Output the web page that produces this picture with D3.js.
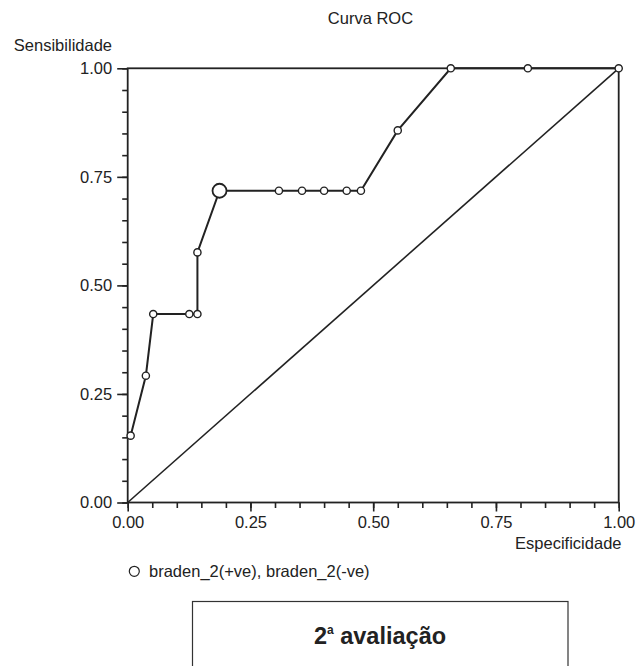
<!DOCTYPE html>
<html><head><meta charset="utf-8">
<script src="https://cdn.jsdelivr.net/npm/d3@7"></script>
<style>body{margin:0;background:#fff}svg{display:block}text{font-family:"Liberation Sans",Arial,sans-serif;fill:#222}</style>
</head><body>
<svg id="c" width="643" height="666"></svg>
<script>
const specificity = [0.006, 0.037, 0.052, 0.1255, 0.142, 0.142, 0.187, 0.308, 0.355, 0.400, 0.446, 0.475, 0.55, 0.658, 0.815, 1.0];
const sensitivity = [0.154, 0.292, 0.434, 0.434, 0.434, 0.576, 0.718, 0.718, 0.718, 0.718, 0.718, 0.718, 0.857, 1.0, 1.0, 1.0];
const optimalIndex = 6;
const tickValues = [0, 0.25, 0.5, 0.75, 1];
const minorTickValues = d3.range(0, 21).map(i => i / 20);
const titleText = "Curva ROC";
const yLabel = "Sensibilidade";
const xLabel = "Especificidade";
const legendText = "braden_2(+ve), braden_2(-ve)";

const FS = 16.5;
const svg = d3.select("#c");
const x = d3.scaleLinear().domain([0, 1]).range([127.7, 618.7]);
const y = d3.scaleLinear().domain([0, 1]).range([502.5, 68.3]);
const fmt = d3.format(".2f");
const ink = "#222";

svg.append("text").attr("x", 370.5).attr("y", 24).attr("text-anchor", "middle")
  .attr("font-size", FS).text(titleText);
svg.append("text").attr("x", 112).attr("y", 50.5).attr("text-anchor", "end")
  .attr("font-size", FS).text(yLabel);

const xMinor = d3.axisBottom(x).tickValues(minorTickValues).tickSize(5.5).tickFormat("");
const yMinor = d3.axisLeft(y).tickValues(minorTickValues).tickSize(5.5).tickFormat("");
const xMajor = d3.axisBottom(x).tickValues(tickValues).tickSize(9).tickPadding(4.5).tickFormat(fmt);
const yMajor = d3.axisLeft(y).tickValues(tickValues).tickSize(10.5).tickPadding(5).tickFormat(fmt);

function style(g) {
  g.select(".domain").remove();
  g.selectAll("line").attr("stroke", ink).attr("stroke-width", 1.6);
  g.selectAll("text").attr("font-size", FS).attr("font-family", '"Liberation Sans",Arial,sans-serif').attr("fill", ink);
}
svg.append("g").attr("transform", `translate(0,${y(0)})`).call(xMinor).call(style);
svg.append("g").attr("transform", `translate(${x(0)},0)`).call(yMinor).call(style);
svg.append("g").attr("transform", `translate(0,${y(0)})`).call(xMajor).call(style);
svg.append("g").attr("transform", `translate(${x(0)},0)`).call(yMajor).call(style);

svg.append("rect").attr("x", x(0)).attr("y", y(1)).attr("width", x(1) - x(0)).attr("height", y(0) - y(1))
  .attr("fill", "none").attr("stroke", ink).attr("stroke-width", 1.8);

svg.append("line").attr("x1", x(0)).attr("y1", y(0)).attr("x2", x(1)).attr("y2", y(1))
  .attr("stroke", ink).attr("stroke-width", 1.6);

const pts = specificity.map((s, i) => [s, sensitivity[i]]);
svg.append("path").datum(pts)
  .attr("d", d3.line().x(d => x(d[0])).y(d => y(d[1])))
  .attr("fill", "none").attr("stroke", ink).attr("stroke-width", 2);

svg.selectAll("circle.pt").data(pts).join("circle").attr("class", "pt")
  .attr("cx", d => x(d[0])).attr("cy", d => y(d[1]))
  .attr("r", (d, i) => i === optimalIndex ? 7 : 3.6)
  .attr("fill", "#fff").attr("stroke", ink).attr("stroke-width", (d, i) => i === optimalIndex ? 1.8 : 1.4);

svg.append("text").attr("x", 621.5).attr("y", 549).attr("text-anchor", "end")
  .attr("font-size", FS).text(xLabel);

svg.append("circle").attr("cx", 134.3).attr("cy", 571.3).attr("r", 5)
  .attr("fill", "#fff").attr("stroke", ink).attr("stroke-width", 1.2);
svg.append("text").attr("x", 149).attr("y", 577).attr("font-size", FS).text(legendText);

svg.append("rect").attr("x", 192.5).attr("y", 601.5).attr("width", 375.5).attr("height", 120)
  .attr("fill", "none").attr("stroke", "#333").attr("stroke-width", 1.2);
const cap = svg.append("text").attr("x", 380).attr("y", 644).attr("text-anchor", "middle")
  .attr("font-size", 23.5).attr("font-weight", "bold");
cap.append("tspan").text("2");
cap.append("tspan").attr("font-size", 12).attr("dy", -10).text("a");
cap.append("tspan").attr("dy", 10).text(" avaliação");
</script>
</body></html>
